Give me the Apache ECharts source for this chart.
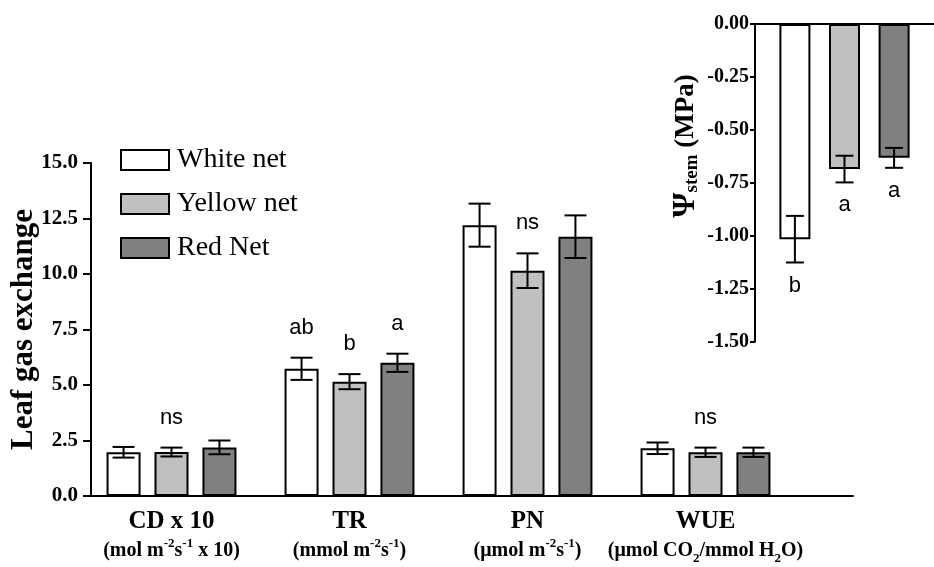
<!DOCTYPE html>
<html><head><meta charset="utf-8">
<script src="https://cdn.jsdelivr.net/npm/echarts@6/dist/echarts.min.js"></script>
<style>html,body{margin:0;padding:0;background:#fff}#c{width:934px;height:567px}</style>
</head><body><div id="c"></div>
<script>
// ---------- DATA ----------
const categories = ['CD x 10', 'TR', 'PN', 'WUE'];
const unitLabels = ['(mol m^-2s^-1 x 10)', '(mmol m^-2s^-1)', '(μmol m^-2s^-1)', '(μmol CO_2/mmol H_2O)'];
const seriesNames = ['White net', 'Yellow net', 'Red Net'];
const whiteMean = [1.97, 5.73, 12.2, 2.15];
const whiteErr = [0.24, 0.50, 0.97, 0.26];
const yellowMean = [1.98, 5.15, 10.15, 1.97];
const yellowErr = [0.20, 0.34, 0.78, 0.21];
const redMean = [2.19, 6.00, 11.68, 1.97];
const redErr = [0.31, 0.41, 0.96, 0.21];
const whiteSig = ['', 'ab', '', ''];
const yellowSig = ['ns', 'b', 'ns', 'ns'];
const redSig = ['', 'a', '', ''];
const mainYMin = 0, mainYMax = 15, mainYStep = 2.5;

const stemCategory = [''];
const stemMean = [-1.016, -0.685, -0.632];
const stemErr = [0.11, 0.063, 0.047];
const stemSig = ['b', 'a', 'a'];
const stemYMin = -1.5, stemYMax = 0, stemYStep = 0.25;

// ---------- STYLE ----------
const SERIF = '"Liberation Serif", "Times New Roman", serif';
const SANS = '"Liberation Sans", Arial, sans-serif';
const fills = ['#ffffff', '#c0c0c0', '#808080'];
const mainBarW = 34, mainGap = 0.41;
const stemBarW = 31, stemGap = 0.6;

function offsets(w, g) { const s = w + w * g; return [-s, 0, s]; }

function unitRich(str) {
  return str.split(/(\^-?\d+|_\d+)/).filter(s => s.length).map(s => {
    if (s[0] === '^') return '{sup|' + s.slice(1) + '}';
    if (s[0] === '_') return '{sub|' + s.slice(1) + '}';
    return '{u|' + s + '}';
  }).join('');
}

function errSeries(name, means, errs, sigs, idx, axIdx, off, cap, labelGap) {
  return {
    type: 'custom', name: name + ' err', xAxisIndex: axIdx, yAxisIndex: axIdx, z: 10,
    encode: { x: 0, y: 1 },
    data: means.map((m, i) => [i, m, errs[i]]),
    renderItem: function (params, api) {
      const c = api.value(0), m = api.value(1), e = api.value(2);
      const x = api.coord([c, m])[0] + off[idx];
      const yA = api.coord([c, m + e])[1], yB = api.coord([c, m - e])[1];
      const ls = { stroke: '#000', lineWidth: 2 };
      const h = cap / 2;
      const children = [
        { type: 'line', shape: { x1: x, y1: yA, x2: x, y2: yB }, style: ls },
        { type: 'line', shape: { x1: x - h, y1: yA, x2: x + h, y2: yA }, style: ls },
        { type: 'line', shape: { x1: x - h, y1: yB, x2: x + h, y2: yB }, style: ls }
      ];
      const s = sigs[params.dataIndex];
      if (s) {
        const ty = m >= 0 ? Math.min(yA, yB) - labelGap : Math.max(yA, yB) + labelGap;
        children.push({ type: 'text', x: x, y: ty, style: { text: s, fill: '#000', font: '22px ' + SANS, align: 'center', verticalAlign: 'middle' } });
      }
      return { type: 'group', children: children };
    }
  };
}

const mainOff = offsets(mainBarW, mainGap);
const stemOff = offsets(stemBarW, stemGap);
const means = [whiteMean, yellowMean, redMean];
const errs = [whiteErr, yellowErr, redErr];
const sigs = [whiteSig, yellowSig, redSig];

const series = [];
seriesNames.forEach((n, i) => {
  series.push({
    type: 'bar', name: n, xAxisIndex: 0, yAxisIndex: 0, data: means[i],
    barWidth: mainBarW, barGap: (mainGap * 100) + '%',
    itemStyle: { color: fills[i], borderColor: '#000', borderWidth: 2 }
  });
});
seriesNames.forEach((n, i) => series.push(errSeries(n, means[i], errs[i], sigs[i], i, 0, mainOff, 22, 30)));
seriesNames.forEach((n, i) => {
  series.push({
    type: 'bar', name: n + ' (stem)', xAxisIndex: 2, yAxisIndex: 2, data: [stemMean[i]],
    barWidth: stemBarW, barGap: (stemGap * 100) + '%',
    itemStyle: { color: fills[i], borderColor: '#000', borderWidth: 2 }
  });
});
seriesNames.forEach((n, i) => series.push(errSeries(n + ' (stem)', [stemMean[i]], [stemErr[i]], [stemSig[i]], i, 2, stemOff, 18, 23)));

const axisLine = { show: true, lineStyle: { color: '#000', width: 2 } };
const option = {
  animation: false,
  backgroundColor: '#fff',
  legend: {
    data: seriesNames, orient: 'vertical', left: 115, top: 141, selectedMode: false,
    icon: 'rect', itemWidth: 48, itemHeight: 20, itemGap: 16,
    itemStyle: { borderColor: '#000', borderWidth: 2 },
    textStyle: { fontFamily: SERIF, fontSize: 28, color: '#000', lineHeight: 28, padding: [0, 0, 0, 3] }
  },
  grid: [
    { left: 82.5, right: 139.5, top: 163, bottom: 71, outerBoundsMode: 'none', containLabel: false },
    { left: 91, right: 81, top: 163, bottom: 71, outerBoundsMode: 'none', containLabel: false },
    { left: 755, right: 0, top: 24, bottom: 225.3, outerBoundsMode: 'none', containLabel: false }
  ],
  xAxis: [
    {
      type: 'category', gridIndex: 0, data: categories,
      axisLine: { show: false }, axisTick: { show: false },
      axisLabel: {
        interval: 0, margin: 11, color: '#000',
        formatter: (v, i) => '{t|' + v + '}\n' + unitRich(unitLabels[i]),
        rich: {
          t: { fontFamily: SERIF, fontWeight: 'bold', fontSize: 25, lineHeight: 30, color: '#000' },
          u: { fontFamily: SERIF, fontWeight: 'bold', fontSize: 20, lineHeight: 28, color: '#000' },
          sup: { fontFamily: SERIF, fontWeight: 'bold', fontSize: 13, lineHeight: 12, verticalAlign: 'top', color: '#000' },
          sub: { fontFamily: SERIF, fontWeight: 'bold', fontSize: 13, lineHeight: 20, verticalAlign: 'bottom', color: '#000' }
        }
      }
    },
    {
      type: 'value', gridIndex: 1, min: 0, max: 1,
      axisLine: axisLine, axisTick: { show: false }, axisLabel: { show: false }, splitLine: { show: false }
    },
    {
      type: 'category', gridIndex: 2, data: stemCategory, position: 'top',
      axisLine: axisLine, axisTick: { show: false }, axisLabel: { show: false }
    }
  ],
  yAxis: [
    {
      type: 'value', gridIndex: 0, min: mainYMin, max: mainYMax, interval: mainYStep, show: false
    },
    {
      type: 'value', gridIndex: 1, min: mainYMin, max: mainYMax, interval: mainYStep,
      axisLine: axisLine, axisTick: { show: true, length: 8, lineStyle: { width: 2, color: '#000' } },
      splitLine: { show: false },
      axisLabel: { margin: 13, formatter: v => v.toFixed(1), fontFamily: SERIF, fontWeight: 'bold', fontSize: 21, color: '#000' },
      name: 'Leaf gas exchange', nameLocation: 'middle', nameRotate: 90, nameGap: 52, nameMoveOverlap: false,
      nameTextStyle: { fontFamily: SERIF, fontWeight: 'bold', fontSize: 31, color: '#000' }
    },
    {
      type: 'value', gridIndex: 2, min: stemYMin, max: stemYMax, interval: stemYStep,
      axisLine: axisLine, axisTick: { show: true, length: 5, lineStyle: { width: 2, color: '#000' } },
      splitLine: { show: false },
      axisLabel: { margin: 6, formatter: v => v.toFixed(2), fontFamily: SERIF, fontWeight: 'bold', fontSize: 20, color: '#000' },
      name: '{psi|Ψ}{sub|stem}{mpa| (MPa)}', nameLocation: 'middle', nameRotate: 90, nameGap: 53, nameMoveOverlap: false,
      nameTextStyle: {
        padding: [0, 0, 0, 74],
        rich: {
          psi: { fontFamily: SERIF, fontWeight: 'bold', fontSize: 32, lineHeight: 32, color: '#000' },
          sub: { fontFamily: SERIF, fontWeight: 'bold', fontSize: 19, lineHeight: 20, verticalAlign: 'bottom', color: '#000' },
          mpa: { fontFamily: SERIF, fontWeight: 'bold', fontSize: 27, lineHeight: 32, color: '#000' }
        }
      }
    }
  ],
  series: series
};
const chart = echarts.init(document.getElementById('c'), null, { renderer: 'canvas' });
chart.setOption(option);
</script>
</body></html>
